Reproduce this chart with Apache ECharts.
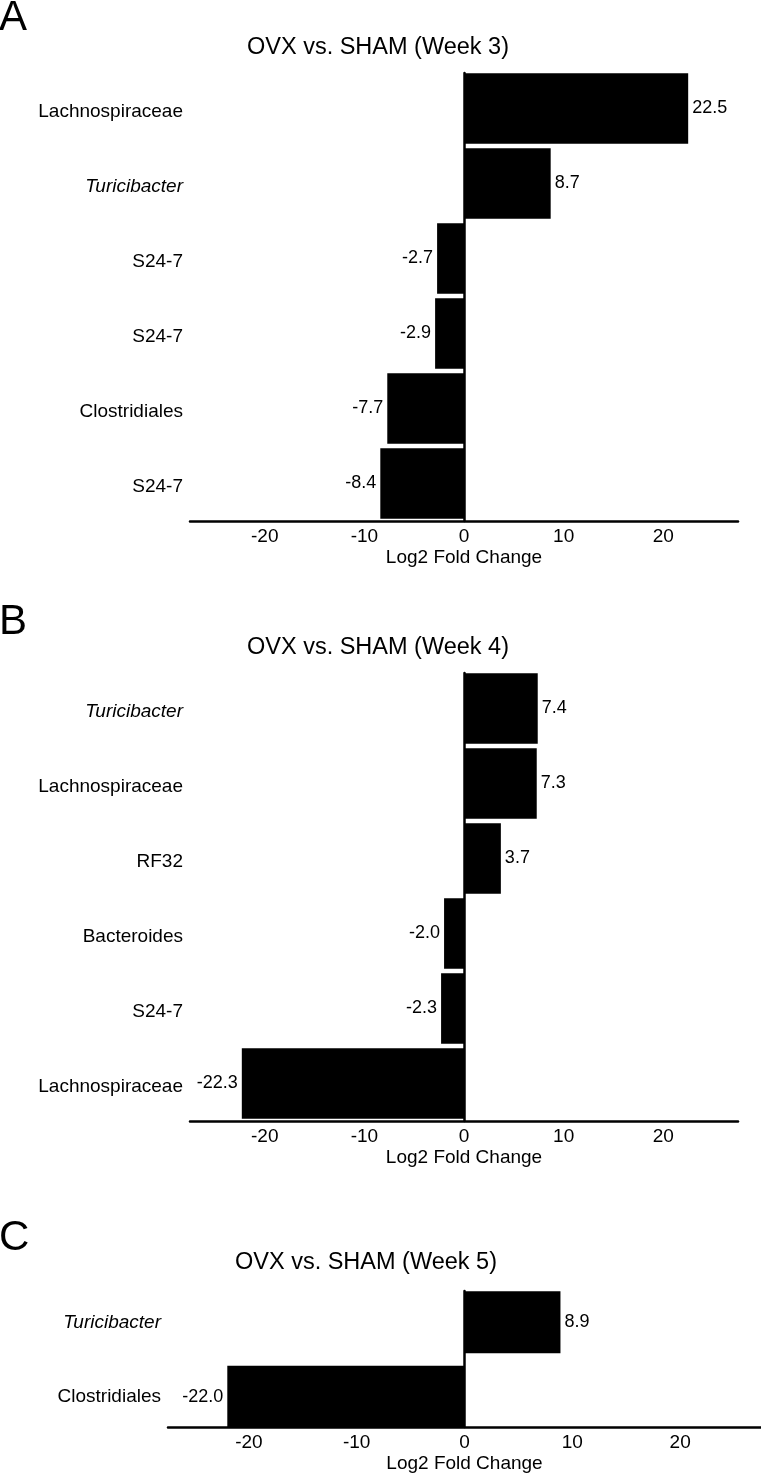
<!DOCTYPE html>
<html>
<head>
<meta charset="utf-8">
<script src="https://cdn.jsdelivr.net/npm/echarts@6/dist/echarts.min.js"></script>
<style>
html,body{margin:0;padding:0;background:#fff;}
#chart{width:761px;height:1474px;}
</style>
</head>
<body>
<div id="chart"></div>
<script>
// ---- Data ----
const panelLetters = ['A', 'B', 'C'];
const panelTitles = ['OVX vs. SHAM (Week 3)', 'OVX vs. SHAM (Week 4)', 'OVX vs. SHAM (Week 5)'];

const week3Taxa = ['Lachnospiraceae', 'Turicibacter', 'S24-7', 'S24-7', 'Clostridiales', 'S24-7'];
const week3Values = [22.5, 8.7, -2.7, -2.9, -7.7, -8.4];

const week4Taxa = ['Turicibacter', 'Lachnospiraceae', 'RF32', 'Bacteroides', 'S24-7', 'Lachnospiraceae'];
const week4Values = [7.4, 7.3, 3.7, -2.0, -2.3, -22.3];

const week5Taxa = ['Turicibacter', 'Clostridiales'];
const week5Values = [8.9, -22.0];

const xTickValues = [-20, -10, 0, 10, 20];
const xMin = -27.5, xMax = 27.5;
const xAxisName = 'Log2 Fold Change';
const italicTaxa = ['Turicibacter'];

// ---- Style / layout ----
const FONT = '"Liberation Sans", Arial, Helvetica, sans-serif';
const grids = [
  { left: 190, width: 548, top: 71, height: 450, offset: 0, gap: '6%', labelPad: 6, zeroTop: 73 },
  { left: 190, width: 548, top: 671, height: 450, offset: 0, gap: '6%', labelPad: 7, zeroTop: 673 },
  { left: 168, width: 593, top: 1285, height: 149, offset: -7, gap: '17%', labelPad: 0, zeroTop: 1291 }
];
const titlePos = [[378, 48], [378, 648], [366, 1263]];
const letterPos = [[-1, 18], [-1, 622], [-1, 1238]];

const taxaSets = [week3Taxa, week4Taxa, week5Taxa];
const valueSets = [week3Values, week4Values, week5Values];

// main grids + thin grids that only carry the zero reference line (from first bar top to the x axis)
const gridOpts = grids.map(g => ({ left: g.left, width: g.width, top: g.top, height: g.height, outerBoundsMode: 'none', containLabel: false }))
  .concat(grids.map(g => ({ left: g.left, width: g.width, top: g.zeroTop, height: (g.top + g.height + g.offset) - g.zeroTop, outerBoundsMode: 'none', containLabel: false })));

const xAxes = grids.map((g, i) => ({
    type: 'value', gridIndex: i, min: xMin, max: xMax, offset: g.offset,
    axisLine: { show: true, onZero: false, lineStyle: { color: '#000', width: 2.5 } },
    axisTick: { show: false },
    splitLine: { show: false },
    axisLabel: { color: '#000', fontSize: 19, fontFamily: FONT, margin: 6, customValues: xTickValues },
    name: xAxisName, nameLocation: 'middle', nameGap: 27,
    nameTextStyle: { color: '#000', fontSize: 19, fontFamily: FONT }
  })).concat(grids.map((g, i) => ({
    type: 'value', gridIndex: i + 3, min: xMin, max: xMax, show: false,
    splitLine: { show: false }
  })));

const yAxes = taxaSets.map((taxa, i) => ({
    type: 'category', gridIndex: i, data: taxa, inverse: true,
    axisLine: { show: false, onZero: false },
    axisTick: { show: false },
    splitLine: { show: false },
    axisLabel: {
      color: '#000', fontSize: 19, fontFamily: FONT, margin: 7,
      padding: [grids[i].labelPad, 0, 0, 0],
      formatter: v => italicTaxa.includes(v) ? '{i|' + v + '}' : v,
      rich: { i: { fontStyle: 'italic', fontSize: 19, fontFamily: FONT, color: '#000' } }
    }
  })).concat(grids.map((g, i) => ({
    type: 'value', gridIndex: i + 3, min: 0, max: 1,
    axisLine: { show: true, onZero: true, lineStyle: { color: '#000', width: 2.5 } },
    axisTick: { show: false },
    axisLabel: { show: false },
    splitLine: { show: false }
  })));

const option = {
  backgroundColor: '#fff',
  animation: false,
  textStyle: { fontFamily: FONT },
  grid: gridOpts,
  xAxis: xAxes,
  yAxis: yAxes,
  series: valueSets.map((vals, i) => ({
    type: 'bar', xAxisIndex: i, yAxisIndex: i,
    barCategoryGap: grids[i].gap,
    itemStyle: { color: '#000' },
    data: vals.map(v => ({
      value: v,
      label: { position: v >= 0 ? 'right' : 'left' }
    })),
    label: {
      show: true, distance: 4, color: '#000', fontSize: 18, fontFamily: FONT,
      formatter: p => Number(p.value).toFixed(1)
    }
  })),
  graphic: [].concat(
    panelTitles.map((t, i) => ({
      type: 'text', x: titlePos[i][0], y: titlePos[i][1],
      style: { text: t, fill: '#000', font: '23.5px ' + FONT, textAlign: 'center', textVerticalAlign: 'middle' }
    })),
    panelLetters.map((t, i) => ({
      type: 'text', x: letterPos[i][0], y: letterPos[i][1],
      style: { text: t, fill: '#000', font: '42px ' + FONT, textAlign: 'left', textVerticalAlign: 'middle' }
    }))
  )
};

const chart = echarts.init(document.getElementById('chart'), null, { renderer: 'canvas' });
chart.setOption(option);
</script>
</body>
</html>
